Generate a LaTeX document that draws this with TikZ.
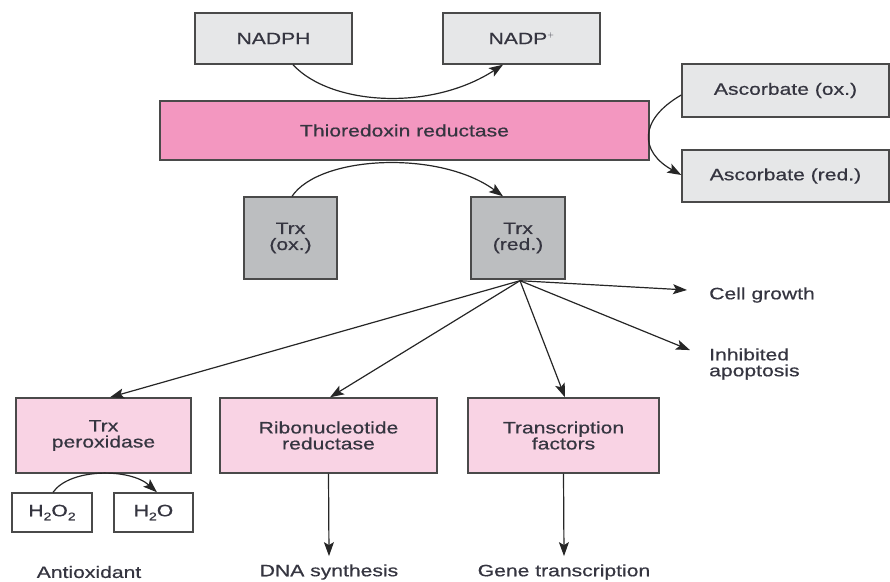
\documentclass[tikz,border=0pt]{standalone}
\usepackage{fontspec}
\setmainfont[FakeStretch=1.28,FakeBold=0.6]{Liberation Sans}
\usetikzlibrary{arrows.meta,calc}
\definecolor{lgrey}{HTML}{E6E7E8}
\definecolor{mgrey}{HTML}{BCBEC0}
\definecolor{hotpink}{HTML}{F397C0}
\definecolor{lpink}{HTML}{F9D3E4}
\definecolor{txt}{HTML}{353540}
\definecolor{edge}{HTML}{4A4A4A}
\tikzset{arr/.style={draw=black!85,line width=1.2pt,-{Stealth[length=14pt,width=10pt,inset=3pt]}}}
\begin{document}
\begin{tikzpicture}[x=1pt,y=-1pt,
  font=\fontsize{16.5}{16}\selectfont,
  box/.style={draw=edge,line width=1.4pt,text=txt,align=center,inner sep=0pt},
  lbl/.style={text=txt,inner sep=0pt}]
\useasboundingbox (0,0) rectangle (890,581);
% top boxes
\node[box,fill=lgrey,minimum width=157pt,minimum height=51pt] (nadph) at (273.5,38.5) {NADPH};
\node[box,fill=lgrey,minimum width=157pt,minimum height=51pt] (nadp) at (521.5,38.5) {NADP$^{\scriptscriptstyle +}$};
\node[box,fill=hotpink,minimum width=489pt,minimum height=59pt] (trr) at (404.5,130.5) {Thioredoxin reductase};
\node[box,fill=lgrey,minimum width=207pt,minimum height=53pt] (ascox) at (785.5,90.5) {Ascorbate (ox.)};
\node[box,fill=lgrey,minimum width=207pt,minimum height=52pt] (ascred) at (785.5,176) {Ascorbate (red.)};
\node[box,fill=mgrey,minimum width=93pt,minimum height=82pt] (trxo) at (290.5,238) {Trx\\(ox.)};
\node[box,fill=mgrey,minimum width=94pt,minimum height=82pt] (trxr) at (518,238) {Trx\\(red.)};
% lower boxes
\node[box,fill=lpink,minimum width=175pt,minimum height=75pt] (tpx) at (103.5,435.5) {Trx\\peroxidase};
\node[box,fill=lpink,minimum width=217pt,minimum height=75pt] (rnr) at (328.5,435.5) {Ribonucleotide\\reductase};
\node[box,fill=lpink,minimum width=191pt,minimum height=75pt] (tf) at (563.5,435.5) {Transcription\\factors};
\node[box,fill=white,minimum width=80pt,minimum height=39pt] (hoo) at (52,512.5) {H\raisebox{-4pt}{\fontsize{11}{11}\selectfont 2}O\raisebox{-4pt}{\fontsize{11}{11}\selectfont 2}};
\node[box,fill=white,minimum width=79pt,minimum height=39pt] (ho) at (153.5,512.5) {H\raisebox{-4pt}{\fontsize{11}{11}\selectfont 2}O};
% labels
\node[lbl,anchor=west] (cg) at (709,295) {Cell growth};
\node[lbl,anchor=west,align=left] (ia) at (709,364) {Inhibited\\apoptosis};
\node[lbl] (anti) at (89,572) {Antioxidant};
\node[lbl] (dna) at (329,572) {DNA synthesis};
\node[lbl] (gene) at (564,572) {Gene transcription};
% arcs
\draw[arr] ($(nadph.south)+(19.5,0)$) .. controls (330,105) and (430,112) .. ($(nadp.south)+(-18.5,0)$);
\draw[arr] ($(trxo.north)+(1.5,0)$) .. controls (320,155) and (440,150) .. ($(trxr.north)+(-15,0)$);
\draw[arr] ($(ascox.west)+(0,4.5)$) .. controls (638,120) and (640,152) .. ($(ascred.west)+(0,-1)$);
\draw[arr] ($(hoo.north)+(1,0)$) .. controls (70,468) and (130,468) .. ($(ho.north)+(3.5,0)$);
% fan from Trx (red.)
\coordinate (src) at ($(trxr.south)+(2,1)$);
\draw[arr] (src) -- ($(tpx.north)+(6.5,0)$);
\draw[arr] (src) -- ($(rnr.north)+(1.5,0)$);
\draw[arr] (src) -- ($(tf.north)+(1.5,0)$);
\draw[arr] (src) -- ($(cg.west)+(-22,-5)$);
\draw[arr] (src) -- ($(ia.north west)+(-19,2)$);
% downward arrows
\draw[arr] (rnr.south) -- ($(dna.north)+(0,-8)$);
\draw[arr] (tf.south) -- ($(gene.north)+(0,-8)$);
\end{tikzpicture}
\end{document}
